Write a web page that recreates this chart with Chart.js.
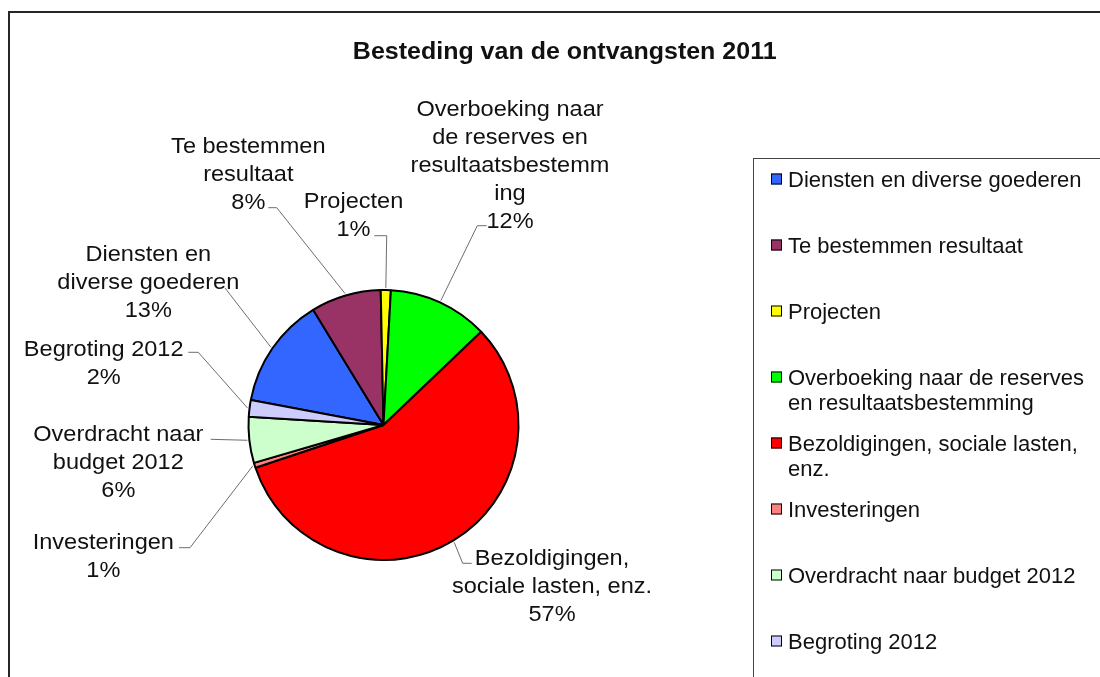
<!DOCTYPE html>
<html><head><meta charset="utf-8">
<script src="https://cdn.jsdelivr.net/npm/chart.js@4/dist/chart.umd.min.js"></script>
<style>html,body{margin:0;padding:0;background:#fff;overflow:hidden;} canvas{display:block;}</style>
</head><body>
<canvas id="c" width="1100" height="677"></canvas>
<script>
// ---- data ----
const chartTitle = 'Besteding van de ontvangsten 2011';
const categories = [
  'Diensten en diverse goederen',
  'Te bestemmen resultaat',
  'Projecten',
  'Overboeking naar de reserves en resultaatsbestemming',
  'Bezoldigingen, sociale lasten, enz.',
  'Investeringen',
  'Overdracht naar budget 2012',
  'Begroting 2012'
];
const values = [13.3, 8.4, 1.2, 12.0, 57.0, 0.6, 5.5, 2.0];
const colors = ['#3366FF', '#993366', '#FFFF00', '#00FF00', '#FF0000', '#FF8080', '#CCFFCC', '#CCCCFF'];
// category names as broken onto lines in the data labels
const labelLines = [
  ['Diensten en', 'diverse goederen'],
  ['Te bestemmen', 'resultaat'],
  ['Projecten'],
  ['Overboeking naar', 'de reserves en', 'resultaatsbestemm', 'ing'],
  ['Bezoldigingen,', 'sociale lasten, enz.'],
  ['Investeringen'],
  ['Overdracht naar', 'budget 2012'],
  ['Begroting 2012']
];

// ---- layout (label boxes and leader elbows) ----
const labelLayout = [
  {x: 148.3, y: 253.3, anchor: [225, 288], elbow: [225, 288]},
  {x: 248.3, y: 145.0, anchor: [268.3, 207.7], elbow: [276.7, 207.7]},
  {x: 353.5, y: 200.0, anchor: [374.3, 235.7], elbow: [386.7, 235.7]},
  {x: 510.0, y: 108.3, anchor: [486.7, 225.7], elbow: [477.3, 225.7]},
  {x: 552.0, y: 556.7, anchor: [471.7, 563.3], elbow: [462.7, 563.3]},
  {x: 103.3, y: 540.7, anchor: [179, 547.7], elbow: [190, 547.7]},
  {x: 118.3, y: 433.3, anchor: [210.7, 439.3], elbow: [210.7, 439.3]},
  {x: 103.7, y: 348.3, anchor: [188.3, 352.3], elbow: [198.3, 352.3]}
];
const FONT = '"Liberation Sans", Arial, sans-serif';
const TEXT_COLOR = '#111';

function drawText(ctx, s, x, y, sx, align) {
  ctx.save();
  ctx.translate(x, y);
  ctx.scale(sx, 1);
  ctx.textAlign = align;
  ctx.textBaseline = 'alphabetic';
  ctx.fillText(s, 0, 0);
  ctx.restore();
}

function wrapWords(ctx, text, maxW) {
  const words = text.split(' ');
  const lines = [];
  let cur = '';
  for (const w of words) {
    const t = cur ? cur + ' ' + w : w;
    if (ctx.measureText(t).width > maxW && cur) { lines.push(cur); cur = w; }
    else cur = t;
  }
  if (cur) lines.push(cur);
  return lines;
}

const decorPlugin = {
  id: 'decor',
  beforeDraw(chart) {
    const ctx = chart.ctx;
    ctx.save();
    ctx.fillStyle = '#fff';
    ctx.fillRect(0, 0, chart.width, chart.height);
    ctx.restore();
  },
  afterDatasetsDraw(chart) {
    const ctx = chart.ctx;
    const meta = chart.getDatasetMeta(0);
    const data = chart.data.datasets[0].data;
    const total = data.reduce((a, b) => a + b, 0);
    ctx.save();
    // leader lines
    ctx.strokeStyle = '#6e6e6e';
    ctx.lineWidth = 1;
    meta.data.forEach((arc, i) => {
      const L = labelLayout[i];
      const mid = (arc.startAngle + arc.endAngle) / 2;
      const r = arc.outerRadius + 2;
      const px = arc.x + Math.cos(mid) * r;
      const py = arc.y + Math.sin(mid) * r;
      ctx.beginPath();
      ctx.moveTo(px, py);
      ctx.lineTo(L.elbow[0], L.elbow[1]);
      ctx.lineTo(L.anchor[0], L.anchor[1]);
      ctx.stroke();
    });
    // labels
    ctx.fillStyle = TEXT_COLOR;
    ctx.font = '22px ' + FONT;
    meta.data.forEach((arc, i) => {
      const L = labelLayout[i];
      const pct = Math.round(data[i] / total * 100) + '%';
      const lines = labelLines[i].concat([pct]);
      lines.forEach((s, k) => {
        drawText(ctx, s, L.x, L.y + 8 + k * 28, 1.07, 'center');
      });
    });
    ctx.restore();
  },
  afterDraw(chart) {
    const ctx = chart.ctx;
    ctx.save();
    // outer frame
    ctx.strokeStyle = '#262626';
    ctx.lineWidth = 2;
    ctx.strokeRect(9, 12, 1300, 900);
    // title
    ctx.fillStyle = TEXT_COLOR;
    ctx.font = 'bold 23px ' + FONT;
    drawText(ctx, chartTitle, 564.7, 59.3, 1.087, 'center');
    // legend box
    ctx.strokeStyle = '#444';
    ctx.lineWidth = 1;
    ctx.strokeRect(753.5, 158.5, 500, 700);
    // legend entries
    ctx.font = '22px ' + FONT;
    const labels = chart.data.labels;
    const bg = chart.data.datasets[0].backgroundColor;
    labels.forEach((lab, i) => {
      const cy = 179 + i * 66;
      ctx.fillStyle = bg[i];
      ctx.fillRect(771, cy - 5.5, 11, 11);
      ctx.strokeStyle = '#000';
      ctx.lineWidth = 1;
      ctx.strokeRect(771.5, cy - 5, 10, 10);
      ctx.fillStyle = TEXT_COLOR;
      const lines = wrapWords(ctx, lab, 302);
      lines.forEach((s, k) => {
        drawText(ctx, s, 788, cy + 8 + k * 25, 1.0, 'left');
      });
    });
    ctx.restore();
  }
};

new Chart(document.getElementById('c'), {
  type: 'pie',
  data: {
    labels: categories,
    datasets: [{
      data: values,
      backgroundColor: colors,
      borderColor: '#000',
      borderWidth: 2
    }]
  },
  options: {
    responsive: false,
    animation: false,
    rotation: 280.7,
    layout: {padding: {left: 247.5, right: 580.5, top: 289, bottom: 116}},
    plugins: {
      legend: {display: false},
      title: {display: false},
      tooltip: {enabled: false}
    }
  },
  plugins: [decorPlugin]
});
</script>
</body></html>
